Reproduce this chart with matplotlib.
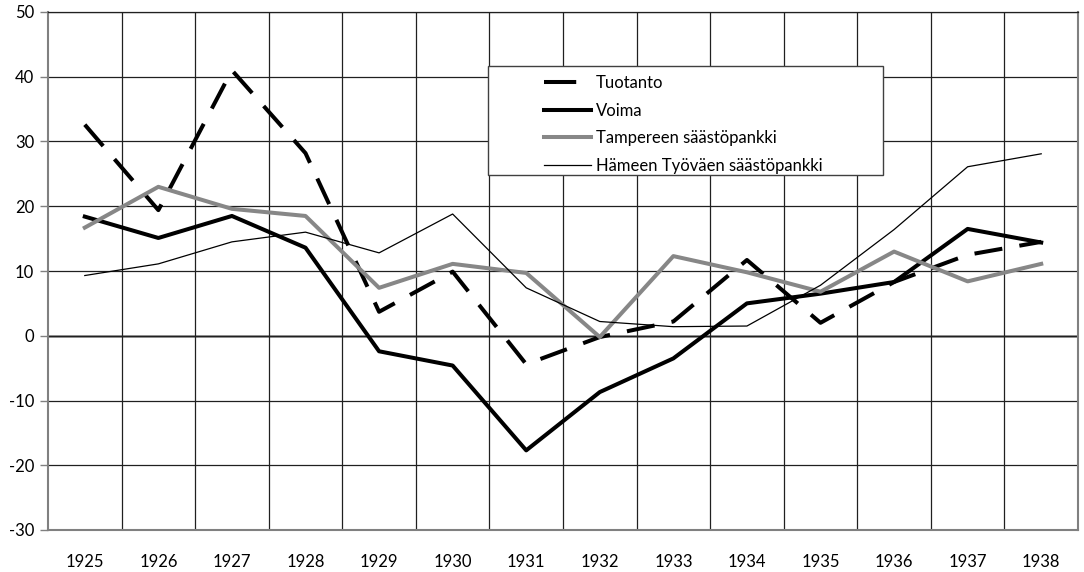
import matplotlib
matplotlib.use("Agg")
import matplotlib.pyplot as plt
from matplotlib.patches import Rectangle
from matplotlib.lines import Line2D

years = ["1925", "1926", "1927", "1928", "1929", "1930", "1931",
         "1932", "1933", "1934", "1935", "1936", "1937", "1938"]
tuotanto = [32.6, 19.4, 41.0, 28.2, 3.7, 9.9, -4.4, -0.2, 2.2, 11.7, 2.0, 8.3, 12.5, 14.5]
voima = [18.4, 15.1, 18.5, 13.6, -2.4, -4.6, -17.7, -8.7, -3.5, 5.0, 6.5, 8.3, 16.5, 14.4]
tampereen = [16.7, 23.0, 19.6, 18.5, 7.4, 11.1, 9.7, -0.2, 12.3, 9.8, 6.8, 13.0, 8.4, 11.1]
hameen = [9.3, 11.1, 14.5, 16.0, 12.8, 18.8, 7.4, 2.2, 1.4, 1.5, 7.8, 16.4, 26.1, 28.1]
labels = ["Tuotanto", "Voima", "Tampereen säästöpankki", "Hämeen Työväen säästöpankki"]
yticks = [-30, -20, -10, 0, 10, 20, 30, 40, 50]

plt.rcParams['font.family'] = ['Lato', 'DejaVu Sans']

W, H = 1084, 572
fig = plt.figure(figsize=(W / 100, H / 100), dpi=100)
L, R, T, B = 48, 1078, 12, 530
ax = fig.add_axes([L / W, 1 - B / H, (R - L) / W, (B - T) / H])

x = list(range(len(years)))
ax.set_xlim(-0.5, len(years) - 0.5)
ax.set_ylim(-30, 50)

# grid
ax.set_yticks(yticks)
ax.set_yticklabels([str(v) for v in yticks], fontsize=12)
ax.set_xticks(x)
ax.set_xticklabels(years, fontsize=12)
ax.set_xticks([i + 0.5 for i in range(len(years) - 1)], minor=True)
ax.tick_params(axis='x', which='major', length=0, pad=17)
ax.tick_params(axis='x', which='minor', length=0)
ax.tick_params(axis='y', length=6, width=1, color='#808080', pad=4)
ax.grid(True, which='major', axis='y', color='#202020', lw=0.9, zorder=0)
ax.grid(True, which='minor', axis='x', color='#202020', lw=0.9, zorder=0)
ax.axhline(0, color='#808080', lw=1.8, zorder=1)
for s in ['left', 'bottom', 'right']:
    ax.spines[s].set_color('#808080')
    ax.spines[s].set_linewidth(1.5)
ax.spines['top'].set_color('#202020')
ax.spines['top'].set_linewidth(0.9)

l1, = ax.plot(x, tuotanto, color='black', lw=2.9, dashes=(7, 4.3), zorder=3,
              solid_joinstyle='miter')
l2, = ax.plot(x, voima, color='black', lw=2.9, zorder=3)
l3, = ax.plot(x, tampereen, color='#878787', lw=2.9, zorder=3)
l4, = ax.plot(x, hameen, color='black', lw=0.9, zorder=3)
h1 = Line2D([], [], color='black', lw=2.9, dashes=(8, 10))

# legend box
bx0, by0, bx1, by1 = 488, 66, 883, 175
fig.patches.append(Rectangle((bx0 / W, 1 - by1 / H), (bx1 - bx0) / W, (by1 - by0) / H,
                             transform=fig.transFigure, facecolor='white',
                             edgecolor='#404040', lw=1, zorder=5))
leg = fig.legend([h1, l2, l3, l4], labels, loc='upper left',
                 bbox_to_anchor=(529 / W, 1 - 60 / H), frameon=False,
                 fontsize=12, handlelength=2.8, handletextpad=0.3,
                 labelspacing=0.7)
leg.set_zorder(6)

fig.savefig("out.png", dpi=100, facecolor='white')
